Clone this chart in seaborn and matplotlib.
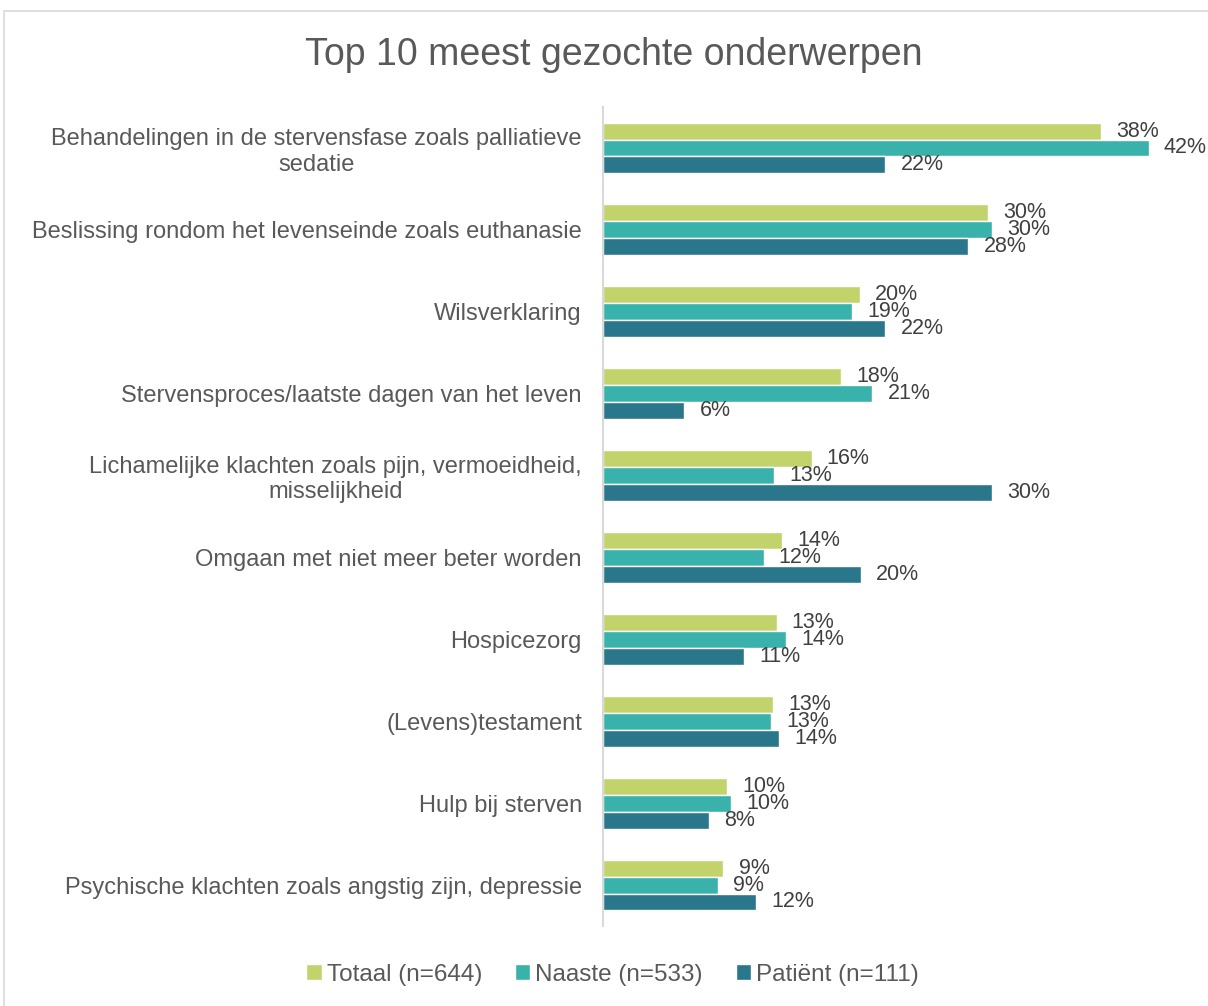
import matplotlib
matplotlib.use("Agg")
import matplotlib.pyplot as plt
import seaborn as sns
import pandas as pd
from matplotlib.patches import Rectangle

categories = [
    "Behandelingen in de stervensfase zoals palliatieve\nsedatie",
    "Beslissing rondom het levenseinde zoals euthanasie",
    "Wilsverklaring",
    "Stervensproces/laatste dagen van het leven",
    "Lichamelijke klachten zoals pijn, vermoeidheid,\nmisselijkheid",
    "Omgaan met niet meer beter worden",
    "Hospicezorg",
    "(Levens)testament",
    "Hulp bij sterven",
    "Psychische klachten zoals angstig zijn, depressie",
]
series = ["Totaal (n=644)", "Naaste (n=533)", "Patiënt (n=111)"]
totaal = [38.4, 29.7, 19.8, 18.4, 16.1, 13.8, 13.4, 13.1, 9.6, 9.3]
naaste = [42.1, 30.0, 19.2, 20.8, 13.2, 12.4, 14.1, 13.0, 9.9, 8.9]
patient = [21.8, 28.2, 21.8, 6.3, 30.0, 19.9, 10.9, 13.6, 8.2, 11.8]
colors = ["#C3D36B", "#38B2AA", "#2A768A"]

rows = []
for s, vals in zip(series, [totaal, naaste, patient]):
    for c, v in zip(categories, vals):
        rows.append({"cat": c, "val": v, "group": s})
df = pd.DataFrame(rows)

sns.set_theme(style="white")
plt.rcParams["font.family"] = ["Liberation Sans", "DejaVu Sans"]

fig = plt.figure(figsize=(12.08, 10.06), dpi=100)
ax = fig.add_axes([0.499, 0.0795, 0.483, 0.8141])

sns.barplot(data=df, y="cat", x="val", hue="group", orient="h",
            order=categories, hue_order=series, palette=colors,
            saturation=1, width=0.62, ax=ax, legend=True, errorbar=None)

ax.set_xlim(0, 45)
ax.set_ylim(9.5, -0.5)
ax.set_xlabel("")
ax.set_ylabel("")
ax.set_xticks([])
for sp in ["top", "right", "bottom"]:
    ax.spines[sp].set_visible(False)
ax.spines["left"].set_color("#D9D9D9")
ax.spines["left"].set_linewidth(1.5)
ax.tick_params(axis="y", length=0, pad=15, labelsize=17, labelcolor="#595959")
for lab in ax.get_yticklabels():
    lab.set_multialignment("center")

for cont in ax.containers:
    for bar in cont:
        w = bar.get_width()
        ax.annotate(f"{w:.0f}%", (w, bar.get_y() + bar.get_height() / 2),
                    xytext=(11, 0), textcoords="offset points",
                    ha="left", va="center", fontsize=15.5, color="#404040")

handles, labels = ax.get_legend_handles_labels()
ax.get_legend().remove()
fig.legend(handles, labels, loc="center", bbox_to_anchor=(0.507, 0.031), ncol=3,
           frameon=False, fontsize=17.5, handlelength=0.65, handleheight=0.65,
           handletextpad=0.2, columnspacing=1.35, labelcolor="#595959")

fig.text(0.508, 0.945, "Top 10 meest gezochte onderwerpen", ha="center", va="center",
         fontsize=27, color="#595959")

fig.patches.append(Rectangle((0.003, -0.01), 1.1, 1 - 0.0109 + 0.01,
                             transform=fig.transFigure, fill=False,
                             edgecolor="#D9D9D9", linewidth=1.2))

fig.savefig("out.png", dpi=100)
